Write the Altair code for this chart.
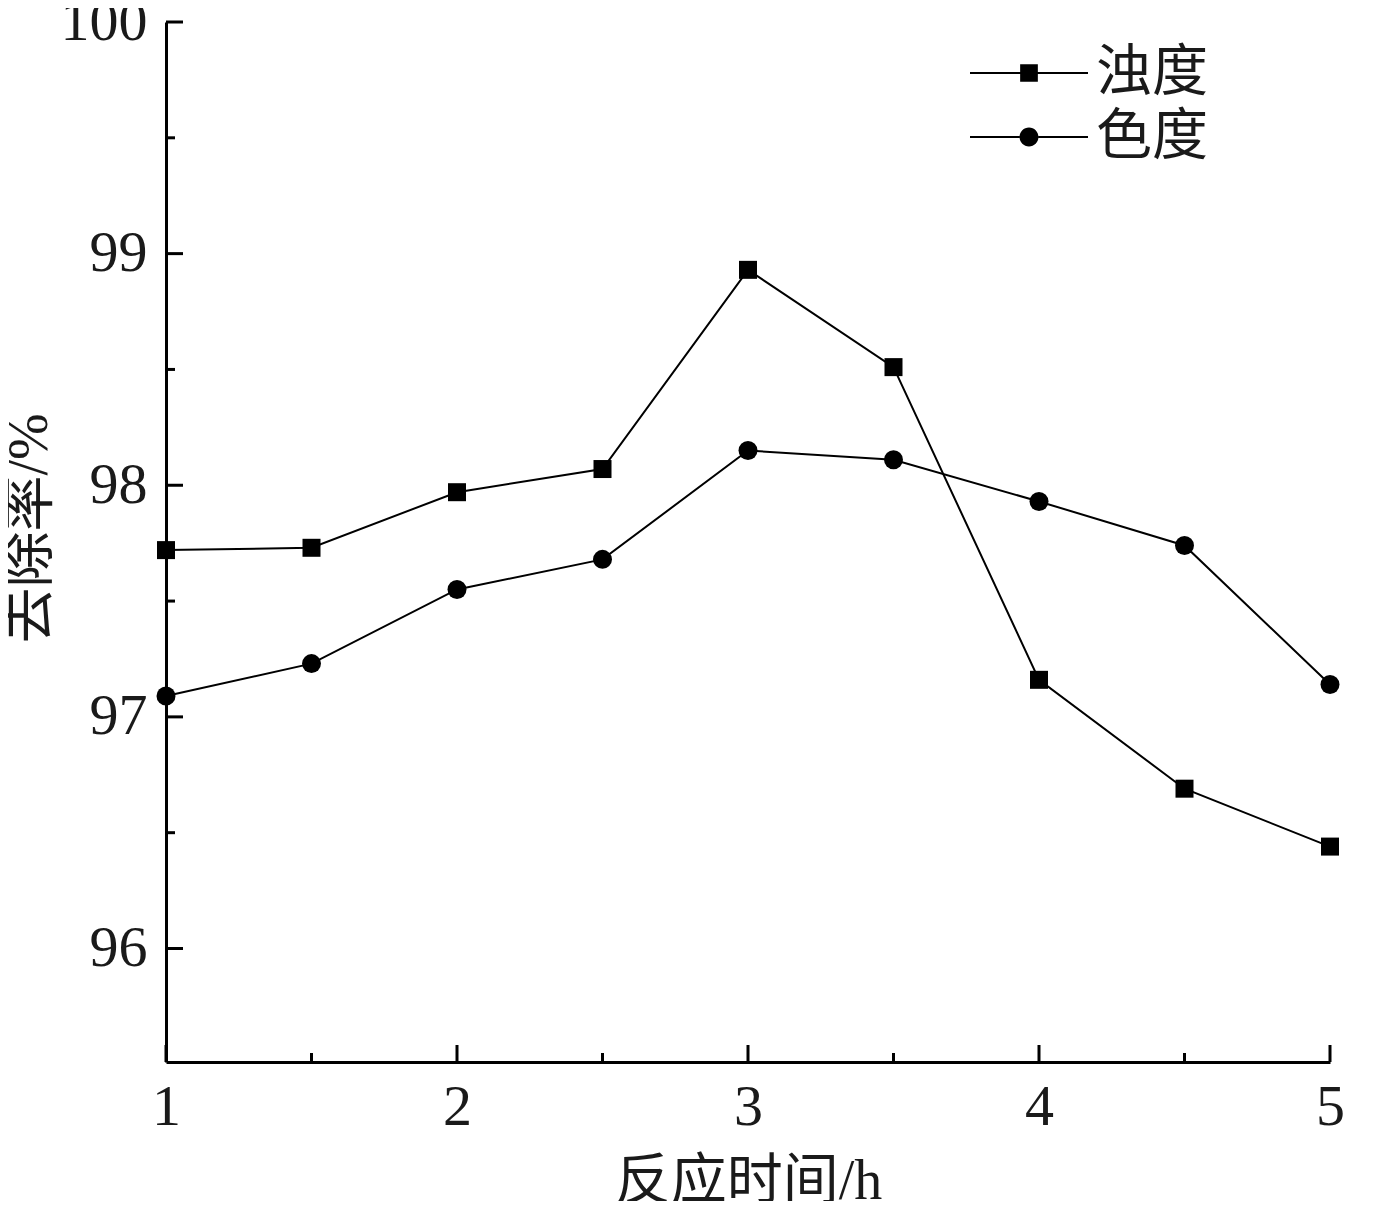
import altair as alt
import pandas as pd

# data
time_h = [1, 1.5, 2, 2.5, 3, 3.5, 4, 4.5, 5]
turbidity = [97.72, 97.73, 97.97, 98.07, 98.93, 98.51, 97.16, 96.69, 96.44]
chroma = [97.09, 97.23, 97.55, 97.68, 98.15, 98.11, 97.93, 97.74, 97.14]
series_names = ["浊度", "色度"]

y_major = [96, 97, 98, 99, 100]
y_minor = [96.5, 97.5, 98.5, 99.5]
x_major = [1, 2, 3, 4, 5]
x_minor = [1.5, 2.5, 3.5, 4.5]

rows = []
for t, a, b in zip(time_h, turbidity, chroma):
    rows.append({"t": t, "v": a, "s": series_names[0]})
    rows.append({"t": t, "v": b, "s": series_names[1]})
df = pd.DataFrame(rows)

W, H = 1164, 1040
FONT = "Liberation Serif, Noto Sans CJK SC"

xs = alt.Scale(domain=[1, 5], nice=False, zero=False)
ys = alt.Scale(domain=[95.51, 100], nice=False, zero=False)

X = alt.X("t:Q", scale=xs, axis=alt.Axis(
    values=x_major, format="d", ticks=False, tickSize=0, grid=False,
    labelFlush=False, labelOverlap=False,
    labelFontSize=58, labelPadding=16, labelFont=FONT, labelColor="#1a1a1a",
    domainColor="black", domainWidth=3,
    title="反应时间/h", titleFont=FONT, titleFontSize=56, titleFontWeight="normal",
    titleColor="#1a1a1a", titleBaseline="middle", titleY=119,
))
Y = alt.Y("v:Q", scale=ys, axis=alt.Axis(
    values=y_major, format="d", ticks=False, tickSize=0, grid=False,
    labelFlush=False, labelOverlap=False,
    labelFontSize=58, labelPadding=19, labelFont=FONT, labelColor="#1a1a1a",
    domainColor="black", domainWidth=3,
    title="去除率/%", titleFont=FONT, titleFontSize=56, titleFontWeight="normal",
    titleColor="#1a1a1a", titleBaseline="middle", titleX=-137, titleY=506,
))

base = alt.Chart(df)

lines = base.mark_line(color="black", strokeWidth=2).encode(
    x=X, y=Y, detail="s:N"
)
sq = base.transform_filter(alt.datum.s == series_names[0]).mark_point(
    shape="square", filled=True, color="black", size=324, opacity=1
).encode(x=X, y=Y)
ci = base.transform_filter(alt.datum.s == series_names[1]).mark_point(
    shape="circle", filled=True, color="black", size=361, opacity=1
).encode(x=X, y=Y)

# legend glyphs: a thin filled bar either side of the marker (unit box -1..1)
h = 0.018
sq_path = (f"M-1,-{h}H-0.15V{h}H-1Z M0.15,-{h}H1V{h}H0.15Z "
           "M-0.15,-0.15H0.15V0.15H-0.15Z")
ci_path = (f"M-1,-{h}H-0.16V{h}H-1Z M0.16,-{h}H1V{h}H0.16Z "
           "M-0.16,0A0.16,0.16 0 1,0 0.16,0A0.16,0.16 0 1,0 -0.16,0Z")
legend_layer = base.transform_filter("false").mark_point(
    filled=True, color="black", opacity=1, strokeWidth=0
).encode(
    x=X, y=Y,
    shape=alt.Shape("s:N", scale=alt.Scale(domain=series_names, range=[sq_path, ci_path]),
                    legend=alt.Legend(
                        title=None, orient="none", legendX=804, legendY=19,
                        padding=0, clipHeight=64, rowPadding=0,
                        symbolSize=13924, symbolStrokeWidth=0,
                        symbolFillColor="black", symbolOpacity=1,
                        labelFont=FONT, labelFontSize=56, labelOffset=8,
                        labelColor="#1a1a1a", labelLimit=400,
                    )),
)

tk_y_major = pd.DataFrame({"v": y_major})
tk_y_minor = pd.DataFrame({"v": y_minor})
tk_x_major = pd.DataFrame({"t": x_major})
tk_x_minor = pd.DataFrame({"t": x_minor})

ytm = alt.Chart(tk_y_major).mark_rule(color="black", strokeWidth=3).encode(
    y=alt.Y("v:Q", scale=ys), x=alt.value(0), x2=alt.value(17))
ytn = alt.Chart(tk_y_minor).mark_rule(color="black", strokeWidth=3).encode(
    y=alt.Y("v:Q", scale=ys), x=alt.value(0), x2=alt.value(9))
xtm = alt.Chart(tk_x_major).mark_rule(color="black", strokeWidth=3).encode(
    x=alt.X("t:Q", scale=xs), y=alt.value(H), y2=alt.value(H - 17))
xtn = alt.Chart(tk_x_minor).mark_rule(color="black", strokeWidth=3).encode(
    x=alt.X("t:Q", scale=xs), y=alt.value(H), y2=alt.value(H - 9))

chart = alt.layer(lines, sq, ci, legend_layer, ytm, ytn, xtm, xtn).properties(
    width=W, height=H,
    autosize=alt.AutoSizeParams(type="none"),
    padding={"left": 158, "top": 14, "right": 56, "bottom": 139},
    background="white",
).configure_view(stroke=None)

chart.save("out.html", embed_options={"renderer": "svg", "actions": False})
